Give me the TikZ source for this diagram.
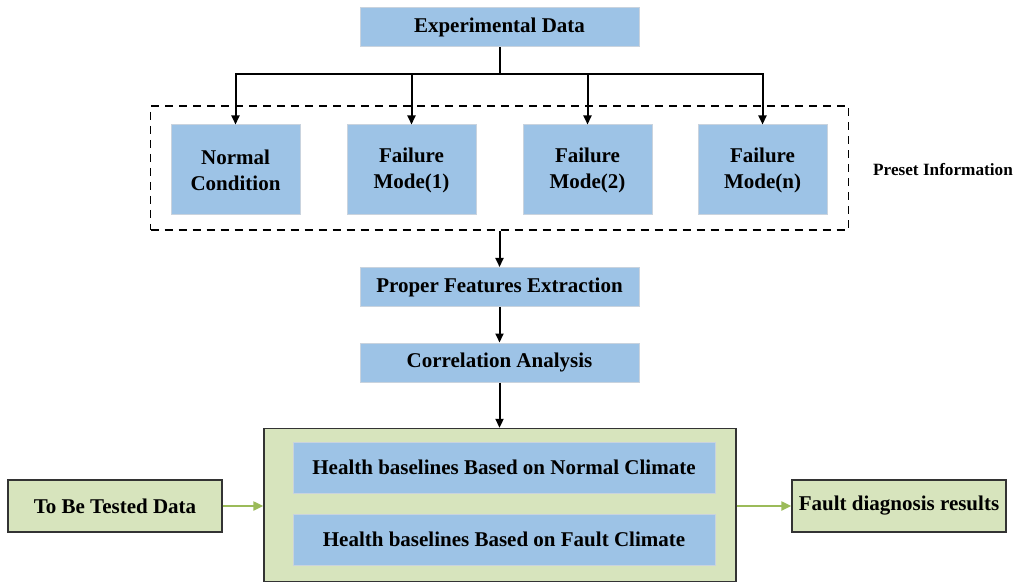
\documentclass[tikz,border=0pt]{standalone}
\usepackage{fontspec}
\setmainfont{Liberation Serif}
\usetikzlibrary{arrows.meta}
\definecolor{boxblue}{HTML}{9DC3E6}
\definecolor{boxgreen}{HTML}{D7E4BD}
\definecolor{arrgreen}{HTML}{9BBB59}
\definecolor{blueedge}{HTML}{C9D3DE}
\begin{document}
\begin{tikzpicture}[x=0.5pt,y=-0.5pt,
  bluebox/.style={draw=blueedge,line width=0.5pt,fill=boxblue,inner sep=0pt,align=center,
    font=\fontsize{10.5}{13}\selectfont\bfseries},
  greenbox/.style={draw=black!80,line width=0.7pt,fill=boxgreen,inner sep=0pt,align=center,
    font=\fontsize{10.5}{13}\selectfont\bfseries},
  blk/.style={line width=1pt,-{Triangle[length=4.5pt,width=4pt]}},
  grn/.style={draw=arrgreen,line width=1.1pt,-{Triangle[length=5pt,width=4.5pt]}}
]
\useasboundingbox (0,0) rectangle (1021,582);
% top
\node[bluebox,minimum width=139.5pt,minimum height=19.5pt] (exp) at (499.5,27.5) {Experimental Data};
% dashed frame
\node[draw=black,line width=0.75pt,dash pattern=on 4pt off 3pt,minimum width=349pt,minimum height=62pt,inner sep=0pt] (frame) at (499.5,168) {};
\node[font=\fontsize{8.6}{10}\selectfont\bfseries] (preset) at (943,170) {Preset Information};
% four boxes
\node[bluebox,minimum width=64.5pt,minimum height=45pt] (nc) at (235.5,170) {Normal\\Condition};
\node[bluebox,minimum width=64.5pt,minimum height=45pt] (f1) at (411.5,170) {Failure\\Mode(1)};
\node[bluebox,minimum width=64.5pt,minimum height=45pt] (f2) at (587.5,170) {Failure\\Mode(2)};
\node[bluebox,minimum width=64.5pt,minimum height=45pt] (fn) at (762.5,170) {Failure\\Mode(n)};
% bus
\coordinate (bus) at (499.5,74);
\draw[line width=1pt] (exp.south) -- (bus);
\draw[blk] (bus) -| (nc.north);
\draw[blk] (bus) -| (f1.north);
\draw[blk] (bus) -| (f2.north);
\draw[blk] (bus) -| (fn.north);
% middle chain
\node[bluebox,minimum width=139.5pt,minimum height=19.5pt] (pfe) at (499.5,287) {Proper Features Extraction};
\node[bluebox,minimum width=139.5pt,minimum height=19.5pt] (ca) at (499.5,362.5) {Correlation Analysis};
\draw[blk] (frame.south) -- (pfe.north);
\draw[blk] (pfe.south) -- (ca.north);
% big green box
\node[greenbox,minimum width=236pt,minimum height=76.5pt] (big) at (500,505) {};
\draw[blk] (ca.south) -- (ca.south |- big.north);
\node[bluebox,minimum width=211pt,minimum height=25.5pt] (hn) at (504,467.5) {Health baselines Based on Normal Climate};
\node[bluebox,minimum width=211pt,minimum height=25.5pt] (hf) at (504,539.5) {Health baselines Based on Fault Climate};
% side boxes
\node[greenbox,minimum width=107pt,minimum height=26pt] (test) at (115,506) {To Be Tested Data};
\node[greenbox,minimum width=107pt,minimum height=26pt] (res) at (899,506) {Fault diagnosis results};
\draw[grn] (test.east) -- (test.east -| big.west);
\draw[grn] (res.west -| big.east) -- (res.west);
\end{tikzpicture}
\end{document}
